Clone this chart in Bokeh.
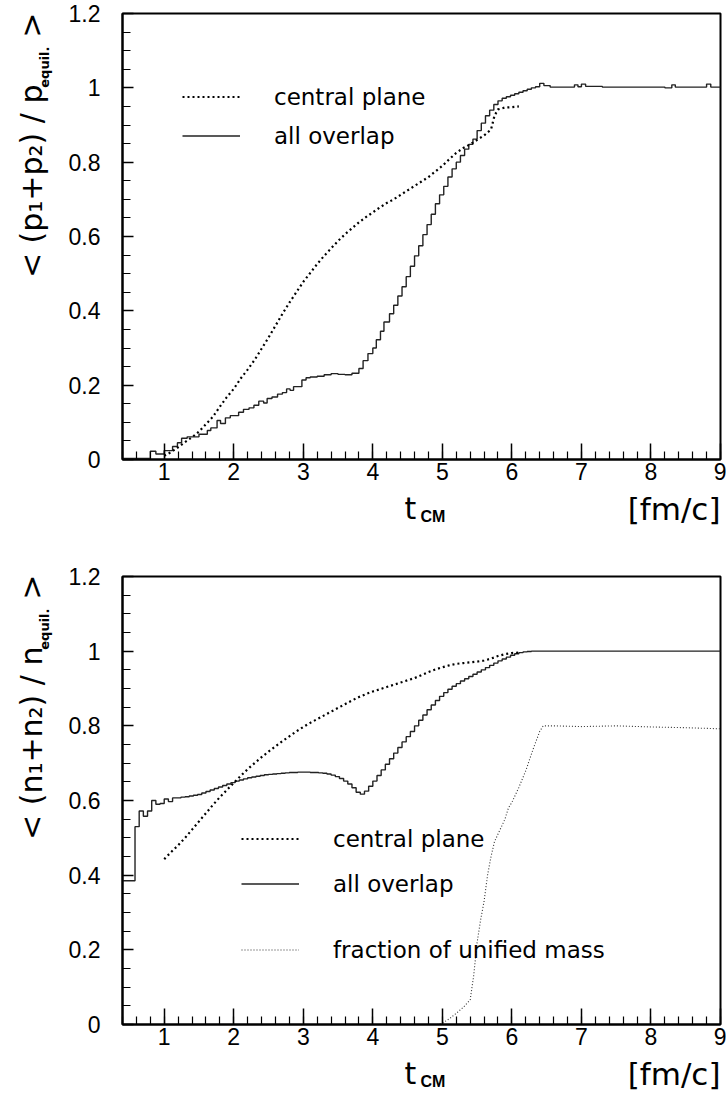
import math
from bokeh.plotting import figure
from bokeh.models import (Range1d, FixedTicker, CustomJSTickFormatter, Label,
                          Legend, LegendItem)
from bokeh.layouts import column, row
from bokeh.embed import file_html
from bokeh.resources import INLINE

# ---------------- data ----------------
X_TICKS = [1, 2, 3, 4, 5, 6, 7, 8, 9]
Y_TICKS = [0, 0.2, 0.4, 0.6, 0.8, 1.0, 1.2]

# top panel: "all overlap" histogram (bin left edges, values)
top_all_t = [0.40, 0.80, 0.88, 1.00, 1.12, 1.19, 1.25, 1.33, 1.50, 1.62, 1.67, 1.76,
             1.81, 1.88, 1.95, 2.07, 2.14, 2.22, 2.29, 2.36, 2.43, 2.48, 2.55, 2.63,
             2.70, 2.76, 2.81, 2.86, 2.92, 2.98, 3.04, 3.10, 3.20, 3.30, 3.40, 3.50,
             3.60, 3.70, 3.80, 3.86, 3.93, 4.00, 4.05, 4.11, 4.16, 4.24, 4.30, 4.36,
             4.42, 4.48, 4.54, 4.60, 4.66, 4.72, 4.78, 4.84, 4.90, 4.96, 5.02, 5.08,
             5.14, 5.20, 5.26, 5.32, 5.38, 5.44, 5.50, 5.56, 5.62, 5.68, 5.74, 5.80,
             5.86, 5.92, 5.98, 6.04, 6.10, 6.16, 6.22, 6.28, 6.34, 6.40, 6.46, 6.55,
             6.90, 6.95, 7.00, 7.06, 7.30, 8.20, 8.30, 8.35, 8.80, 8.86, 9.00]
top_all_v = [0.003, 0.022, 0.015, 0.024, 0.035, 0.045, 0.057, 0.061, 0.068, 0.078, 0.085, 0.105,
             0.097, 0.112, 0.118, 0.127, 0.135, 0.139, 0.146, 0.157, 0.152, 0.164, 0.168, 0.176,
             0.180, 0.190, 0.186, 0.196, 0.196, 0.214, 0.220, 0.222, 0.224, 0.228, 0.231, 0.229,
             0.228, 0.232, 0.245, 0.266, 0.285, 0.300, 0.322, 0.345, 0.370, 0.392, 0.415, 0.440,
             0.465, 0.492, 0.520, 0.548, 0.575, 0.605, 0.632, 0.660, 0.688, 0.712, 0.735, 0.760,
             0.782, 0.800, 0.818, 0.835, 0.848, 0.862, 0.885, 0.905, 0.925, 0.940, 0.955, 0.965,
             0.972, 0.976, 0.980, 0.984, 0.988, 0.992, 0.996, 1.000, 1.003, 1.012, 1.006, 1.002,
             1.008, 1.003, 1.010, 1.004, 1.002, 1.000, 1.008, 1.002, 1.010, 1.002, 1.002]

# top panel: "central plane"
top_cen_t = [1.00, 1.10, 1.20, 1.30, 1.40, 1.50, 1.60, 1.70, 1.80, 1.90, 2.00, 2.10, 2.20,
             2.30, 2.40, 2.50, 2.60, 2.70, 2.80, 2.90, 3.00, 3.10, 3.20, 3.30, 3.40, 3.50,
             3.60, 3.70, 3.80, 3.90, 4.00, 4.10, 4.20, 4.30, 4.40, 4.50, 4.60, 4.70, 4.80,
             4.90, 5.00, 5.10, 5.20, 5.30, 5.40, 5.50, 5.60, 5.70, 5.75, 5.80, 5.90, 6.00, 6.10]
top_cen_v = [0.010, 0.020, 0.033, 0.047, 0.060, 0.075, 0.095, 0.115, 0.142, 0.168, 0.190, 0.218, 0.242,
             0.268, 0.298, 0.328, 0.360, 0.392, 0.422, 0.450, 0.478, 0.502, 0.526, 0.548, 0.568, 0.588,
             0.606, 0.622, 0.638, 0.652, 0.665, 0.678, 0.690, 0.700, 0.712, 0.724, 0.736, 0.748, 0.760,
             0.775, 0.790, 0.808, 0.825, 0.838, 0.848, 0.860, 0.872, 0.888, 0.925, 0.942, 0.947, 0.948, 0.950]

# bottom panel: "all overlap" histogram, bins of 0.06 starting at 0.40
bot_all_v = [0.385, 0.385, 0.385, 0.530, 0.572, 0.558, 0.572, 0.600, 0.590, 0.592, 0.604, 0.597,
             0.607, 0.607, 0.609, 0.610, 0.612, 0.614, 0.616, 0.620, 0.624, 0.628, 0.632, 0.636,
             0.640, 0.644, 0.648, 0.652, 0.655, 0.658, 0.661, 0.663, 0.665, 0.667, 0.669, 0.670,
             0.671, 0.672, 0.673, 0.674, 0.675, 0.675, 0.676, 0.676, 0.676, 0.675, 0.675, 0.674,
             0.673, 0.671, 0.668, 0.664, 0.659, 0.652, 0.644, 0.634, 0.622, 0.617, 0.625, 0.638,
             0.652, 0.667, 0.682, 0.697, 0.712, 0.727, 0.742, 0.757, 0.771, 0.785, 0.800, 0.815,
             0.829, 0.843, 0.856, 0.868, 0.879, 0.889, 0.898, 0.906, 0.913, 0.920, 0.926, 0.932,
             0.938, 0.944, 0.950, 0.956, 0.962, 0.968, 0.974, 0.979, 0.984, 0.989, 0.993, 0.996,
             0.998, 0.999, 1.000, 1.000]
BIN_START, BIN_WIDTH, T_END = 0.40, 0.06, 9.0

# bottom panel: "central plane"
bot_cen_t = [1.00, 1.10, 1.20, 1.30, 1.40, 1.50, 1.60, 1.70, 1.80, 1.90, 2.00, 2.10, 2.20,
             2.30, 2.40, 2.50, 2.60, 2.70, 2.80, 2.90, 3.00, 3.10, 3.20, 3.30, 3.40, 3.50,
             3.60, 3.70, 3.80, 3.90, 4.00, 4.10, 4.20, 4.30, 4.40, 4.50, 4.60, 4.70, 4.80,
             4.90, 5.00, 5.10, 5.20, 5.30, 5.40, 5.50, 5.60, 5.70, 5.80, 5.90, 6.00, 6.10]
bot_cen_v = [0.443, 0.462, 0.480, 0.500, 0.522, 0.544, 0.566, 0.588, 0.609, 0.628, 0.647, 0.666, 0.684,
             0.700, 0.716, 0.731, 0.745, 0.759, 0.772, 0.785, 0.797, 0.808, 0.818, 0.828, 0.838, 0.848,
             0.858, 0.868, 0.877, 0.885, 0.892, 0.898, 0.904, 0.910, 0.916, 0.922, 0.928, 0.936, 0.944,
             0.951, 0.957, 0.962, 0.966, 0.968, 0.970, 0.972, 0.975, 0.980, 0.987, 0.992, 0.995, 0.996]

# bottom panel: "fraction of unified mass"
frac_t = [4.92, 5.00, 5.10, 5.20, 5.30, 5.40, 5.45, 5.50, 5.55, 5.60, 5.65, 5.70, 5.75, 5.80,
          5.85, 5.90, 5.95, 6.00, 6.05, 6.10, 6.20, 6.30, 6.40, 6.45, 6.60, 7.00, 7.50, 8.00,
          8.50, 9.00]
frac_v = [0.000, 0.004, 0.015, 0.030, 0.046, 0.066, 0.130, 0.220, 0.280, 0.330, 0.400, 0.450,
          0.490, 0.510, 0.530, 0.550, 0.580, 0.595, 0.615, 0.635, 0.680, 0.735, 0.785, 0.800,
          0.800, 0.798, 0.800, 0.797, 0.795, 0.792]

# ---------------- styling ----------------
TICK_FONT = "Liberation Sans"
TEXT_FONT = "DejaVu Sans"
LEFT_W = 64
MAIN_W = 662
B_LEFT, B_RIGHT = 58, 6          # frame spans page x 122 .. 720
FRAME_X0, FRAME_X1 = LEFT_W + B_LEFT, LEFT_W + MAIN_W - B_RIGHT
BASE_SHIFT = 0.346               # baseline offset below the text-box centre, in em


def make_fig(height, border_top, border_bottom):
    p = figure(width=MAIN_W, height=height, output_backend="svg", toolbar_location=None,
               title=None,
               x_range=Range1d(0.4, 9.0), y_range=Range1d(0, 1.2),
               min_border_left=B_LEFT, min_border_right=B_RIGHT,
               min_border_top=border_top, min_border_bottom=border_bottom)
    p.grid.visible = False
    p.outline_line_color = "black"
    p.outline_line_width = 2
    p.background_fill_color = "white"
    p.border_fill_color = "white"

    xa = p.xaxis[0]
    xa.ticker = FixedTicker(ticks=X_TICKS, minor_ticks=[round(0.4 + 0.2 * i, 2) for i in range(44)])
    xa.major_tick_in = 16
    xa.major_tick_out = 0
    xa.minor_tick_in = 8
    xa.minor_tick_out = 0
    xa.major_label_standoff = 3
    xa.major_label_text_font = TICK_FONT
    xa.major_label_text_font_size = "23px"
    xa.major_label_text_color = "black"

    ya = p.yaxis[0]
    ya.ticker = FixedTicker(ticks=Y_TICKS, minor_ticks=[round(0.05 * i, 2) for i in range(25)])
    ya.formatter = CustomJSTickFormatter(code="return (Math.round(tick*10)/10).toString();")
    ya.major_tick_in = 11
    ya.major_tick_out = 0
    ya.minor_tick_in = 8
    ya.minor_tick_out = 0
    ya.major_label_standoff = 22
    ya.major_label_text_font = TICK_FONT
    ya.major_label_text_font_size = "23px"
    ya.major_label_text_color = "black"

    for ax in (xa, ya):
        ax.axis_line_width = 2
        ax.axis_line_color = "black"
        ax.major_tick_line_width = 1.5
        ax.minor_tick_line_width = 1.2
        ax.major_tick_line_color = "black"
        ax.minor_tick_line_color = "black"
    return p


def text_strip(width, height, y0, x_start, x_end, b_left=0, b_right=0):
    """A blank figure whose data coordinates are page pixels (y grows downward)."""
    s = figure(width=width, height=height, output_backend="svg", toolbar_location=None,
               title=None,
               x_range=Range1d(x_start, x_end), y_range=Range1d(y0 + height, y0),
               x_axis_location=None, y_axis_location=None,
               min_border_left=b_left, min_border_right=b_right,
               min_border_top=0, min_border_bottom=0)
    s.grid.visible = False
    s.outline_line_color = None
    s.background_fill_color = "white"
    s.border_fill_color = "white"
    return s


def lab(fig, x, y, text, size, align="left", angle=0.0, bold=False, font=TEXT_FONT):
    """Place a text whose baseline is at (x, y) (y for horizontal, x for rotated text)."""
    shift = BASE_SHIFT * size
    if angle:
        x = x - shift
    else:
        y = y - shift
    fig.add_layout(Label(x=x, y=y, text=text, angle=angle, text_align=align,
                         text_baseline="middle", text_font=font,
                         text_font_size="%dpx" % size,
                         text_font_style="bold" if bold else "normal",
                         text_color="black"))


def add_ytitle(strip, sym, top):
    r = math.pi / 2
    lab(strip, 41, top, ">", 30, "right", r)
    lab(strip, 48, top + 34, "equil.", 13, "right", r, bold=True)
    lab(strip, 41, top + 72, "< (%s\u2081+%s\u2082) / %s" % (sym, sym, sym), 30, "right", r)


def add_xtitle(strip, base):
    lab(strip, 404, base - 1, "t", 30)
    lab(strip, 420, base + 3, "CM", 16, bold=True, font="Liberation Sans")
    lab(strip, FRAME_X1, base, "[fm/c]", 31, "right")


def style_legend(lg, spacing):
    lg.glyph_width = 58
    lg.glyph_height = 27
    lg.label_height = 27
    lg.label_standoff = 34
    lg.spacing = spacing
    lg.padding = 0
    lg.margin = 0
    lg.border_line_alpha = 0
    lg.background_fill_alpha = 0
    lg.label_text_font = TEXT_FONT
    lg.label_text_font_size = "23px"
    lg.label_text_color = "black"


# page layout heights
P1_H, XT1_H, P2_H, XT2_H = 489, 67, 498, 41

# ---------------- top panel ----------------
p1 = make_fig(P1_H, 13, 30)
r_all1 = p1.step(top_all_t + [T_END], top_all_v + [top_all_v[-1]], mode="after",
                 line_color="#222222", line_width=1.4)
r_cen1 = p1.line(top_cen_t, top_cen_v, line_color="black", line_width=2.2, line_dash="2 3")
lg1 = Legend(items=[LegendItem(label="central plane", renderers=[r_cen1]),
                    LegendItem(label="all overlap", renderers=[r_all1])],
             location=(60, 310))
style_legend(lg1, 12)
p1.add_layout(lg1)

xt1 = text_strip(MAIN_W, XT1_H, P1_H, FRAME_X0, FRAME_X1, B_LEFT, B_RIGHT)
add_xtitle(xt1, 519)

# ---------------- bottom panel ----------------
p2 = make_fig(P2_H, 20, 30)
bot_all_t = [round(BIN_START + BIN_WIDTH * i, 2) for i in range(len(bot_all_v))]
r_all2 = p2.step(bot_all_t + [T_END], bot_all_v + [bot_all_v[-1]], mode="after",
                 line_color="#222222", line_width=1.4)
r_cen2 = p2.line(bot_cen_t, bot_cen_v, line_color="black", line_width=2.2, line_dash="2 3")
r_frac = p2.line(frac_t, frac_v, line_color="#333333", line_width=1.1, line_dash="1 2")
lg2 = Legend(items=[LegendItem(label="central plane", renderers=[r_cen2]),
                    LegendItem(label="all overlap", renderers=[r_all2])],
             location=(119, 127))
style_legend(lg2, 18)
p2.add_layout(lg2)
lg3 = Legend(items=[LegendItem(label="fraction of unified mass", renderers=[r_frac])],
             location=(119, 61))
style_legend(lg3, 0)
p2.add_layout(lg3)

xt2 = text_strip(MAIN_W, XT2_H, P1_H + XT1_H + P2_H, FRAME_X0, FRAME_X1, B_LEFT, B_RIGHT)
add_xtitle(xt2, 1084)

# ---------------- left strip with the rotated y titles ----------------
TOTAL_H = P1_H + XT1_H + P2_H + XT2_H
left = text_strip(LEFT_W, TOTAL_H, 0, 0, LEFT_W)
add_ytitle(left, "p", 12)
add_ytitle(left, "n", 574)

layout = row(left, column(p1, xt1, p2, xt2, spacing=0), spacing=0)
open("out.html", "w").write(file_html(layout, INLINE))
